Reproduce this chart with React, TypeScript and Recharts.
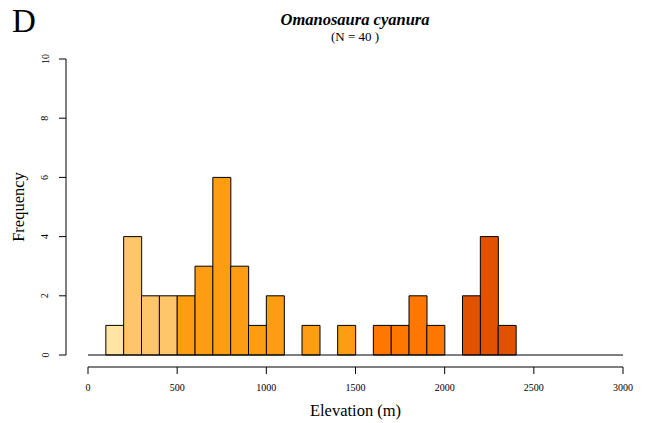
import { BarChart, Bar, XAxis, YAxis, Cell, ReferenceLine } from 'recharts';

// histogram bins (100 m wide) and counts
const binStarts = [
  0, 100, 200, 300, 400, 500, 600, 700, 800, 900,
  1000, 1100, 1200, 1300, 1400, 1500, 1600, 1700, 1800, 1900,
  2000, 2100, 2200, 2300, 2400, 2500, 2600, 2700, 2800, 2900,
];
const counts = [
  0, 1, 4, 2, 2, 2, 3, 6, 3, 1,
  2, 0, 1, 0, 1, 0, 1, 1, 2, 1,
  0, 2, 4, 1, 0, 0, 0, 0, 0, 0,
];
const xTicks = [0, 500, 1000, 1500, 2000, 2500, 3000];
const yTicks = [0, 2, 4, 6, 8, 10];

const serif = '"Liberation Serif", "DejaVu Serif", serif';

const binColor = (start: number) => {
  if (start < 200) return '#ffe5a3';
  if (start < 500) return '#ffc56b';
  if (start < 1600) return '#ff9d12';
  if (start < 2100) return '#ff7600';
  return '#e05200';
};

const data = binStarts.map((start, i) => ({
  bin: `${start}-${start + 100}`,
  start,
  count: counts[i],
}));

const YTick = (props: any) => {
  const { x, y, payload } = props;
  return (
    <text
      x={x}
      y={y}
      transform={`rotate(-90, ${x}, ${y})`}
      textAnchor="middle"
      fontSize={10}
      fontFamily={serif}
      fill="#000"
    >
      {payload.value}
    </text>
  );
};

export default function App() {
  return (
    <div style={{ position: 'absolute', left: 0, top: 0, width: 645, height: 423, background: '#fff' }}>
      <BarChart
        width={645}
        height={423}
        data={data}
        margin={{ top: 59, right: 22, left: 0, bottom: 0 }}
        barCategoryGap={0}
        barGap={0}
      >
        {/* spacer axis keeps the frequency axis off the bars, like R's offset */}
        <YAxis yAxisId="aGap" width={22} axisLine={false} tickLine={false} tick={false} />
        <YAxis
          yAxisId="freq"
          width={66}
          type="number"
          domain={[0, 10]}
          ticks={yTicks}
          interval={0}
          axisLine={{ stroke: '#000' }}
          tickLine={{ stroke: '#000' }}
          tickSize={7}
          tickMargin={10.5}
          tick={<YTick />}
        />
        <XAxis xAxisId="bins" dataKey="bin" height={12} axisLine={false} tickLine={false} tick={false} />
        <XAxis
          xAxisId="elev"
          type="number"
          dataKey="start"
          domain={[0, 3000]}
          ticks={xTicks}
          interval={0}
          height={56}
          axisLine={{ stroke: '#000' }}
          tickLine={{ stroke: '#000' }}
          tickSize={7}
          tickMargin={9.4}
          tick={{ fontSize: 10, fontFamily: serif, fill: '#000' }}
          label={{
            value: 'Elevation (m)',
            position: 'insideBottom',
            offset: 7,
            fontSize: 16.5,
            fontFamily: serif,
            fill: '#000',
          }}
        />
        <ReferenceLine
          xAxisId="elev"
          yAxisId="freq"
          segment={[{ x: 0, y: 0 }, { x: 3000, y: 0 }]}
          stroke="#000"
          strokeWidth={1}
        />
        <Bar
          xAxisId="bins"
          yAxisId="freq"
          dataKey="count"
          stroke="#000"
          strokeWidth={1}
          isAnimationActive={false}
        >
          {data.map((d) => (
            <Cell key={d.bin} fill={binColor(d.start)} />
          ))}
        </Bar>
      </BarChart>
      <svg
        width={645}
        height={423}
        style={{ position: 'absolute', left: 0, top: 0, pointerEvents: 'none' }}
      >
        <text x={12} y={32} fontSize={33} fontFamily={serif} fill="#000">D</text>
        <text x={355} y={25} textAnchor="middle" fontSize={16.5} fontWeight="bold" fontStyle="italic" fontFamily={serif} fill="#000">
          Omanosaura cyanura
        </text>
        <text x={355} y={41} textAnchor="middle" fontSize={13} fontFamily={serif} fill="#000">
          (N = 40 )
        </text>
        <text x={24} y={207} transform="rotate(-90, 24, 207)" textAnchor="middle" fontSize={16.5} fontFamily={serif} fill="#000">
          Frequency
        </text>
      </svg>
    </div>
  );
}
